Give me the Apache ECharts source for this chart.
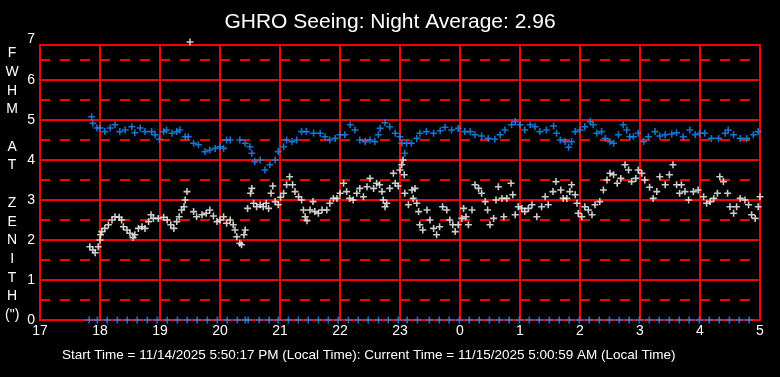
<!DOCTYPE html>
<html>
<head>
<meta charset="utf-8">
<script src="https://cdn.jsdelivr.net/npm/echarts@6/dist/echarts.min.js"></script>
<style>
  html, body { margin: 0; padding: 0; background: #000; }
  #chart { width: 780px; height: 377px; }
</style>
</head>
<body>
<div id="chart"></div>
<script>
// hours since midnight of 11/14 (24 = 0h, 29 = 5 AM)
var blueHours = [17.86, 17.88, 17.95, 18.00, 18.08, 18.17, 18.25, 18.33, 18.42, 18.53, 18.58, 18.67, 18.75, 18.86, 18.92, 18.99,
  19.06, 19.11, 19.20, 19.28, 19.33, 19.42, 19.47, 19.56, 19.64, 19.75, 19.83, 19.92, 20.00, 20.06, 20.11, 20.17,
  20.33, 20.42, 20.50, 20.53, 20.58, 20.67, 20.75, 20.83, 20.92, 20.97, 21.06, 21.11, 21.20, 21.28, 21.36, 21.44,
  21.56, 21.67, 21.75, 21.83, 21.92, 22.00, 22.08, 22.17, 22.25, 22.33, 22.42, 22.50, 22.58, 22.64, 22.67, 22.75,
  22.83, 22.92, 23.00, 23.03, 23.08, 23.11, 23.19, 23.28, 23.33, 23.44, 23.56, 23.67, 23.75, 23.86, 23.97, 24.08,
  24.17, 24.25, 24.36, 24.47, 24.58, 24.67, 24.75, 24.86, 24.92, 25.00, 25.08, 25.17, 25.25, 25.33, 25.44, 25.56,
  25.61, 25.67, 25.75, 25.81, 25.86, 25.92, 26.00, 26.08, 26.17, 26.22, 26.28, 26.36, 26.42, 26.50, 26.56, 26.64,
  26.72, 26.78, 26.83, 26.89, 26.97, 27.06, 27.14, 27.25, 27.33, 27.42, 27.53, 27.61, 27.72, 27.83, 27.92, 28.00,
  28.08, 28.19, 28.31, 28.42, 28.47, 28.56, 28.67, 28.78, 28.89, 28.97];
var blueValues = [5.08, 4.92, 4.80, 4.80, 4.71, 4.80, 4.88, 4.71, 4.75, 4.83, 4.68, 4.80, 4.71, 4.71, 4.63, 4.52,
  4.71, 4.75, 4.67, 4.71, 4.75, 4.58, 4.58, 4.42, 4.38, 4.21, 4.25, 4.29, 4.33, 4.29, 4.50, 4.50,
  4.50, 4.42, 4.33, 4.17, 3.96, 4.00, 3.75, 3.88, 4.00, 4.21, 4.33, 4.50, 4.46, 4.50, 4.71, 4.71,
  4.67, 4.67, 4.58, 4.50, 4.54, 4.63, 4.63, 4.88, 4.75, 4.50, 4.46, 4.50, 4.46, 4.63, 4.79, 4.93,
  4.83, 4.67, 4.58, 4.42, 4.17, 4.42, 4.42, 4.54, 4.67, 4.71, 4.67, 4.73, 4.82, 4.75, 4.79, 4.71,
  4.71, 4.63, 4.60, 4.54, 4.52, 4.63, 4.75, 4.88, 4.96, 4.88, 4.75, 4.88, 4.83, 4.71, 4.75, 4.85,
  4.67, 4.50, 4.46, 4.32, 4.46, 4.71, 4.75, 4.83, 4.96, 4.88, 4.67, 4.71, 4.54, 4.46, 4.42, 4.63,
  4.88, 4.75, 4.58, 4.58, 4.67, 4.46, 4.58, 4.71, 4.60, 4.63, 4.65, 4.68, 4.58, 4.75, 4.63, 4.67,
  4.67, 4.54, 4.54, 4.67, 4.75, 4.63, 4.54, 4.54, 4.63, 4.71];

var whiteHours = [17.83, 17.88, 17.92, 17.97, 18.00, 18.01, 18.03, 18.08, 18.14, 18.20, 18.25, 18.32, 18.36, 18.39, 18.45, 18.50,
  18.55, 18.58, 18.64, 18.70, 18.75, 18.81, 18.85, 18.89, 18.97, 19.06, 19.12, 19.18, 19.23, 19.28, 19.32, 19.36,
  19.40, 19.42, 19.45, 19.50, 19.56, 19.61, 19.70, 19.77, 19.83, 19.89, 19.95, 20.00, 20.06, 20.11, 20.17, 20.22,
  20.25, 20.28, 20.33, 20.36, 20.40, 20.42, 20.46, 20.51, 20.53, 20.56, 20.61, 20.67, 20.72, 20.77, 20.81, 20.85,
  20.88, 20.92, 20.97, 21.01, 21.06, 21.11, 21.16, 21.21, 21.25, 21.31, 21.36, 21.39, 21.42, 21.45, 21.50, 21.55,
  21.58, 21.64, 21.70, 21.78, 21.83, 21.89, 21.95, 22.00, 22.06, 22.11, 22.16, 22.22, 22.28, 22.33, 22.39, 22.45,
  22.50, 22.56, 22.61, 22.66, 22.70, 22.72, 22.75, 22.78, 22.83, 22.89, 22.92, 22.97, 23.00, 23.03, 23.05, 23.07,
  23.08, 23.14, 23.20, 23.22, 23.25, 23.28, 23.31, 23.33, 23.38, 23.45, 23.50, 23.56, 23.61, 23.66, 23.71, 23.78,
  23.83, 23.88, 23.92, 23.97, 24.03, 24.06, 24.10, 24.14, 24.20, 24.25, 24.31, 24.36, 24.42, 24.46, 24.50, 24.56,
  24.60, 24.64, 24.70, 24.73, 24.78, 24.85, 24.88, 24.92, 24.97, 25.03, 25.08, 25.14, 25.20, 25.28, 25.36, 25.42,
  25.47, 25.55, 25.60, 25.68, 25.72, 25.78, 25.83, 25.86, 25.92, 25.95, 25.97, 26.03, 26.08, 26.14, 26.20, 26.25,
  26.33, 26.39, 26.45, 26.50, 26.56, 26.62, 26.68, 26.75, 26.81, 26.86, 26.93, 26.97, 27.03, 27.08, 27.16, 27.22,
  27.28, 27.33, 27.42, 27.49, 27.55, 27.61, 27.66, 27.69, 27.75, 27.81, 27.89, 27.97, 28.06, 28.11, 28.17, 28.23,
  28.29, 28.33, 28.39, 28.46, 28.50, 28.56, 28.61, 28.67, 28.75, 28.81, 28.86, 28.92, 28.97, 29.00];
var whiteValues = [1.83, 1.75, 1.68, 1.83, 2.00, 2.13, 2.21, 2.29, 2.38, 2.50, 2.58, 2.57, 2.50, 2.33, 2.25, 2.17,
  2.06, 2.13, 2.29, 2.33, 2.29, 2.46, 2.63, 2.54, 2.54, 2.57, 2.50, 2.38, 2.29, 2.46, 2.58, 2.75,
  2.83, 3.00, 3.21, 6.95, 2.71, 2.58, 2.63, 2.67, 2.75, 2.60, 2.46, 2.50, 2.58, 2.42, 2.50, 2.38,
  2.25, 2.08, 1.92, 1.88, 2.13, 2.25, 2.79, 3.17, 3.29, 2.92, 2.83, 2.88, 2.83, 2.92, 2.79, 3.17,
  3.35, 2.96, 2.88, 3.07, 3.17, 3.38, 3.58, 3.38, 3.21, 3.08, 3.00, 2.75, 2.58, 2.48, 2.75, 2.96,
  2.71, 2.67, 2.75, 2.75, 2.92, 3.04, 3.04, 3.17, 3.42, 3.21, 3.04, 3.00, 3.17, 3.29, 3.08, 3.33,
  3.54, 3.29, 3.42, 3.38, 3.21, 3.00, 2.83, 2.92, 3.29, 3.67, 3.42, 3.35, 3.75, 3.88, 4.00, 3.63,
  3.17, 2.88, 3.25, 3.04, 3.29, 2.92, 2.71, 2.38, 2.25, 2.75, 2.50, 2.29, 2.13, 2.33, 2.83, 2.75,
  2.50, 2.38, 2.21, 2.38, 2.54, 2.79, 2.58, 2.38, 2.75, 3.38, 3.29, 3.17, 2.96, 2.75, 2.38, 2.54,
  3.00, 3.33, 3.04, 2.58, 3.04, 3.42, 3.13, 2.63, 2.83, 2.79, 2.71, 2.79, 2.88, 2.58, 2.83, 3.08,
  2.88, 3.21, 3.46, 3.25, 3.04, 3.04, 3.21, 3.38, 3.13, 2.92, 2.67, 2.58, 2.83, 2.75, 2.63, 2.88,
  2.96, 3.25, 3.50, 3.67, 3.63, 3.42, 3.54, 3.88, 3.75, 3.46, 3.54, 3.75, 3.67, 3.50, 3.32, 3.04,
  3.21, 3.58, 3.38, 3.63, 3.88, 3.38, 3.17, 3.38, 3.21, 3.00, 3.21, 3.25, 3.08, 2.92, 2.96, 3.04,
  3.17, 3.58, 3.46, 3.17, 2.83, 2.67, 2.83, 3.04, 3.00, 2.88, 2.63, 2.54, 2.83, 3.08];

// blue markers sitting on zero along the bottom
var zeroHours = [17.82, 17.955, 18.12, 18.29, 18.455, 18.62, 18.79, 18.955, 19.12, 19.29, 19.455, 19.62, 19.79, 19.955,
  20.12, 20.29, 20.42, 20.47, 20.655, 20.82, 20.97, 21.14, 21.305, 21.47, 21.64, 21.805, 21.97, 22.14, 22.305,
  22.47, 22.64, 22.805, 22.97, 23.12, 23.29, 23.49, 23.655, 23.82, 23.99, 24.155, 24.32, 24.49, 24.655, 24.82,
  24.99, 25.155, 25.32, 25.49, 25.655, 25.82, 25.99, 26.155, 26.32, 26.49, 26.655, 26.82, 26.99, 27.155, 27.32,
  27.49, 27.655, 27.82, 27.99, 28.155, 28.32, 28.49, 28.655, 28.82];

var yLetters = ['F', 'W', 'H', 'M', '', 'A', 'T', '', 'Z', 'E', 'N', 'I', 'T', 'H', '(")'];

var plus = 'path://M3.1,0H4.9V3.1H8V4.9H4.9V8H3.1V4.9H0V3.1H3.1Z';
var font = '"Liberation Sans", Arial, sans-serif';

function pairs(xs, ys) {
  return xs.map(function (x, i) { return [x, ys[i]]; });
}

var chart = echarts.init(document.getElementById('chart'));
chart.setOption({
  animation: false,
  backgroundColor: '#000',
  textStyle: { fontFamily: font },
  title: {
    text: 'GHRO Seeing: Night Average: 2.96',
    left: 'center',
    top: 7,
    textStyle: { color: '#fff', fontSize: 21, fontWeight: 'normal', fontFamily: font }
  },
  grid: {
    left: 40, right: 20, top: 45, bottom: 57,
    show: true, borderColor: '#ff0000', borderWidth: 2, backgroundColor: '#000'
  },
  xAxis: {
    type: 'value', min: 17, max: 29, interval: 1,
    axisLine: { lineStyle: { color: '#ff0000', width: 2 } },
    axisTick: { show: false },
    axisLabel: {
      color: '#fff', fontSize: 14, margin: 4, fontFamily: font,
      formatter: function (v) { return String(v % 24); }
    },
    splitLine: { lineStyle: { color: '#ff0000', width: 2 } }
  },
  yAxis: {
    type: 'value', min: 0, max: 6.875, interval: 1,
    axisLine: { show: true, lineStyle: { color: '#ff0000', width: 2 } },
    axisTick: { show: false },
    axisLabel: {
      color: '#fff', fontSize: 14, margin: 5, fontFamily: font,
      formatter: function (v) { return v > 6.5 ? '{t|7}' : String(v); },
      rich: { t: { color: '#fff', fontSize: 14, fontFamily: font, padding: [0, 0, 11, 0] } }
    },
    splitLine: { lineStyle: { color: '#ff0000', width: 2 } },
    minorTick: { show: false, splitNumber: 2 },
    minorSplitLine: { show: true, lineStyle: { color: '#ff0000', width: 2, type: [10, 10] } }
  },
  graphic: [
    {
      type: 'text', left: 5, top: 44,
      style: {
        text: yLetters.join('\n'), fill: '#fff', font: '14px ' + font,
        lineHeight: 18.7, align: 'center', textAlign: 'center', width: 14
      }
    },
    {
      type: 'text', left: 62, top: 348,
      style: {
        text: 'Start Time = 11/14/2025 5:50:17 PM (Local Time): Current Time = 11/15/2025 5:00:59 AM (Local Time)',
        fill: '#fff', font: '13.5px ' + font
      }
    }
  ],
  series: [
    {
      type: 'scatter', data: pairs(zeroHours, zeroHours.map(function () { return 0; })),
      symbol: plus, symbolSize: 7, itemStyle: { color: '#1e90ff' }, clip: false
    },
    {
      type: 'scatter', data: pairs(blueHours, blueValues),
      symbol: plus, symbolSize: 7, itemStyle: { color: '#1e90ff' }
    },
    {
      type: 'scatter', data: pairs(whiteHours, whiteValues),
      symbol: plus, symbolSize: 7, itemStyle: { color: '#ffffff' }, clip: false
    }
  ]
});
</script>
</body>
</html>
